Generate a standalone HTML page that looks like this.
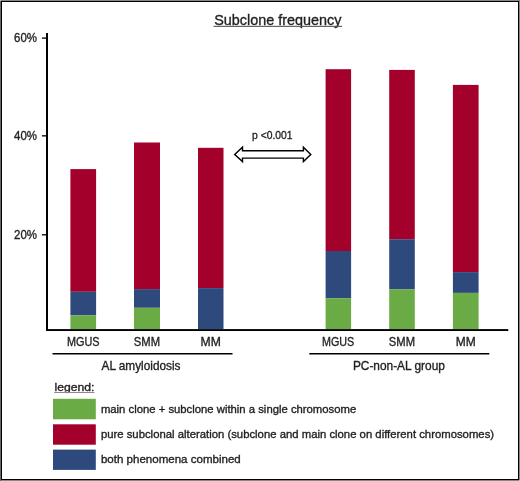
<!DOCTYPE html>
<html><head><meta charset="utf-8">
<style>
html,body{margin:0;padding:0;background:#fff;}
body{width:520px;height:481px;overflow:hidden;}
svg{display:block;will-change:transform;font-family:"Liberation Sans",sans-serif;}
text{fill:#231f20;stroke:#231f20;stroke-width:0.35px;}
</style></head>
<body>
<svg width="520" height="481" viewBox="0 0 520 481">
<rect x="0" y="0" width="520" height="481" fill="#fff"/>
<!-- frame -->
<rect x="0" y="0" width="520" height="1" fill="#888"/>
<rect x="0" y="480" width="520" height="1" fill="#888"/>
<rect x="0" y="0" width="1" height="481" fill="#666"/>
<rect x="519" y="0" width="1" height="481" fill="#888"/>
<rect x="0" y="0" width="1" height="1" fill="#bbb"/>
<rect x="519" y="480" width="1" height="1" fill="#ccc"/>
<rect x="1.5" y="1.5" width="517" height="478" fill="none" stroke="#000" stroke-width="1"/>

<!-- title -->
<text x="214.2" y="24.5" font-size="15" textLength="127.3" lengthAdjust="spacingAndGlyphs">Subclone frequency</text>
<rect x="213.5" y="25.8" width="128.5" height="1.1" fill="#555"/>

<!-- y axis -->
<rect x="46" y="33" width="2" height="298" fill="#000"/>
<rect x="41.9" y="37.45" width="4.5" height="1.3" fill="#000"/>
<rect x="41.9" y="135.2" width="4.5" height="1.3" fill="#000"/>
<rect x="41.9" y="234.15" width="4.5" height="1.3" fill="#000"/>
<text x="14" y="42" font-size="12.3" textLength="23" lengthAdjust="spacingAndGlyphs">60%</text>
<text x="14" y="140.4" font-size="12.3" textLength="23" lengthAdjust="spacingAndGlyphs">40%</text>
<text x="14" y="238.8" font-size="12.3" textLength="23" lengthAdjust="spacingAndGlyphs">20%</text>

<!-- x axis -->
<rect x="46" y="329.1" width="462.3" height="1.9" fill="#000"/>

<!-- bars -->
<g>
<rect x="70.4" y="169.1" width="25.7" height="122.7" fill="#a3002b"/>
<rect x="70.4" y="291.8" width="25.7" height="23.6" fill="#2e4a7c"/>
<rect x="70.4" y="315.4" width="25.7" height="13.6" fill="#6aab45"/>

<rect x="134" y="142.5" width="26" height="146.6" fill="#a3002b"/>
<rect x="134" y="289.1" width="26" height="18.7" fill="#2e4a7c"/>
<rect x="134" y="307.8" width="26" height="21.2" fill="#6aab45"/>

<rect x="198" y="147.8" width="25.5" height="140.3" fill="#a3002b"/>
<rect x="198" y="288.1" width="25.5" height="40.9" fill="#2e4a7c"/>

<rect x="325.6" y="69.2" width="25.5" height="181.8" fill="#a3002b"/>
<rect x="325.6" y="251" width="25.5" height="47.2" fill="#2e4a7c"/>
<rect x="325.6" y="298.2" width="25.5" height="30.8" fill="#6aab45"/>

<rect x="389.2" y="69.9" width="25.6" height="169.3" fill="#a3002b"/>
<rect x="389.2" y="239.2" width="25.6" height="50.2" fill="#2e4a7c"/>
<rect x="389.2" y="289.4" width="25.6" height="39.6" fill="#6aab45"/>

<rect x="452.9" y="84.9" width="25.7" height="187.2" fill="#a3002b"/>
<rect x="452.9" y="272.1" width="25.7" height="20.8" fill="#2e4a7c"/>
<rect x="452.9" y="292.9" width="25.7" height="36.1" fill="#6aab45"/>
</g>

<!-- x labels -->
<g font-size="13">
<text x="67" y="346" textLength="32.6" lengthAdjust="spacingAndGlyphs">MGUS</text>
<text x="133.8" y="346" textLength="26.2" lengthAdjust="spacingAndGlyphs">SMM</text>
<text x="200.5" y="346" textLength="20.3" lengthAdjust="spacingAndGlyphs">MM</text>
<text x="322" y="346" textLength="32.3" lengthAdjust="spacingAndGlyphs">MGUS</text>
<text x="388.8" y="346" textLength="26.2" lengthAdjust="spacingAndGlyphs">SMM</text>
<text x="455.8" y="346" textLength="20" lengthAdjust="spacingAndGlyphs">MM</text>
</g>

<!-- group lines -->
<rect x="52.5" y="353" width="180" height="1.5" fill="#000"/>
<rect x="309.3" y="353" width="180" height="1.5" fill="#000"/>
<text x="101.5" y="369.8" font-size="12.2" textLength="79" lengthAdjust="spacingAndGlyphs">AL amyloidosis</text>
<text x="352.9" y="369.8" font-size="12.2" textLength="92" lengthAdjust="spacingAndGlyphs">PC-non-AL group</text>

<!-- p value + arrow -->
<text x="252.1" y="139.2" font-size="11.8" textLength="40.5" lengthAdjust="spacingAndGlyphs">p &lt;0.001</text>
<path d="M234.7 154.4 L242.5 147.2 L242.5 150.7 L303.4 150.7 L303.4 147.2 L310.8 154.4 L303.4 161.6 L303.4 158.1 L242.5 158.1 L242.5 161.6 Z" fill="#fff" stroke="#000" stroke-width="1.4" stroke-linejoin="miter"/>

<!-- legend -->
<text x="54.5" y="391.2" font-size="11.3" textLength="40" lengthAdjust="spacingAndGlyphs">legend:</text>
<rect x="54.2" y="392" width="40.3" height="1" fill="#8c8c8c"/>
<rect x="53" y="398.8" width="42.8" height="20.5" fill="#6aab45"/>
<rect x="53" y="424.3" width="42.8" height="20.4" fill="#a3002b"/>
<rect x="53" y="449.6" width="42.8" height="20.3" fill="#2e4a7c"/>
<g font-size="11.3" style="stroke-width:0.28px">
<text x="100.9" y="413" textLength="255.3" lengthAdjust="spacingAndGlyphs">main clone + subclone within a single chromosome</text>
<text x="100.9" y="438.1" textLength="393.2" lengthAdjust="spacingAndGlyphs">pure subclonal alteration (subclone and main clone on different chromosomes)</text>
<text x="100.9" y="463.3" textLength="139.9" lengthAdjust="spacingAndGlyphs">both phenomena combined</text>
</g>
</svg>
</body></html>
